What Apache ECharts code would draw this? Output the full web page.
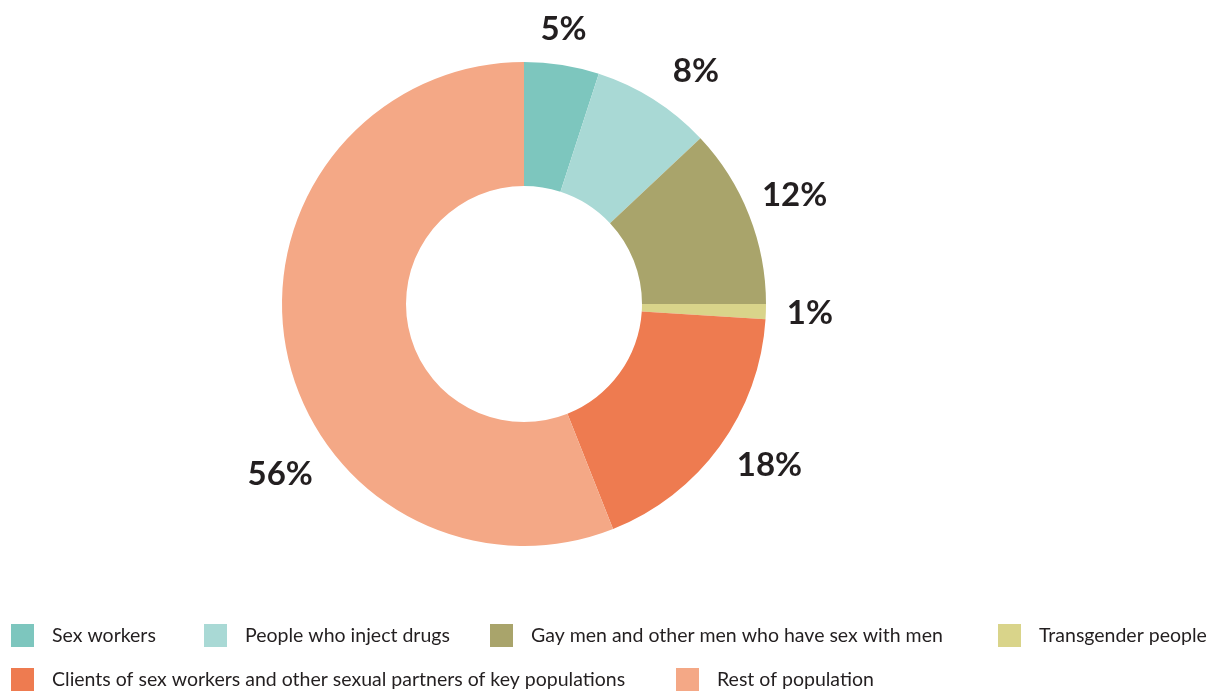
<!DOCTYPE html>
<html>
<head>
<meta charset="UTF-8">
<title></title>
<script src="https://cdn.jsdelivr.net/npm/echarts@6/dist/echarts.min.js"></script>
<style>
html, body { margin: 0; padding: 0; background: #fff; }
#main { width: 1225px; height: 693px; }
</style>
</head>
<body>
<div id="main"></div>
<script>
// data
var groups = ['Sex workers', 'People who inject drugs', 'Gay men and other men who have sex with men',
  'Transgender people', 'Clients of sex workers and other sexual partners of key populations', 'Rest of population'];
var shares = [5, 8, 12, 1, 18, 56];
var colors = ['#7dc6be', '#a9d9d5', '#a9a46b', '#d9d48a', '#ee7b50', '#f4a886'];

var pieData = groups.map(function (g, i) {
  return { name: g, value: shares[i], itemStyle: { color: colors[i] } };
});
var labelData = groups.map(function (g, i) {
  return { name: g, value: shares[i] };
});

// nudges for the percentage labels, so they sit where the original put them
var labelNudge = [[-6, 13], [16, 13], [0, -2], [-5, 0], [10, -10], [42, 116]];

// legend positions (one legend per item so they sit like the original)
var legendPos = [[11, 624], [204, 624], [490, 624], [998, 624], [11, 668], [676, 668]];
var legends = groups.map(function (g, i) {
  return {
    data: [g],
    left: legendPos[i][0],
    top: legendPos[i][1],
    padding: 0,
    icon: 'rect',
    itemWidth: 23,
    itemHeight: 23,
    selectedMode: false,
    textStyle: {
      fontFamily: 'Lato',
      fontSize: 19.5,
      color: '#231f20',
      padding: [0, 0, 0, 13]
    }
  };
});

var myChart = echarts.init(document.getElementById('main'));
var option = {
  animation: false,
  legend: legends,
  series: [{
    type: 'pie',
    center: [524, 304],
    radius: [118, 242],
    startAngle: 90,
    label: { show: false },
    labelLine: { show: false },
    silent: true,
    data: pieData
  }, {
    // invisible ring, only carries the percentage labels
    type: 'pie',
    center: [524, 304],
    radius: [272, 304],
    startAngle: 90,
    silent: true,
    itemStyle: { color: 'rgba(0,0,0,0)' },
    label: {
      show: true,
      position: 'inside',
      formatter: '{c}%',
      fontFamily: 'Lato',
      fontWeight: 'bold',
      fontSize: 33,
      color: '#231f20'
    },
    labelLayout: function (params) {
      var n = labelNudge[params.dataIndex];
      return { dx: n[0], dy: n[1] };
    },
    labelLine: { show: false },
    data: labelData
  }]
};
myChart.setOption(option);
</script>
</body>
</html>
